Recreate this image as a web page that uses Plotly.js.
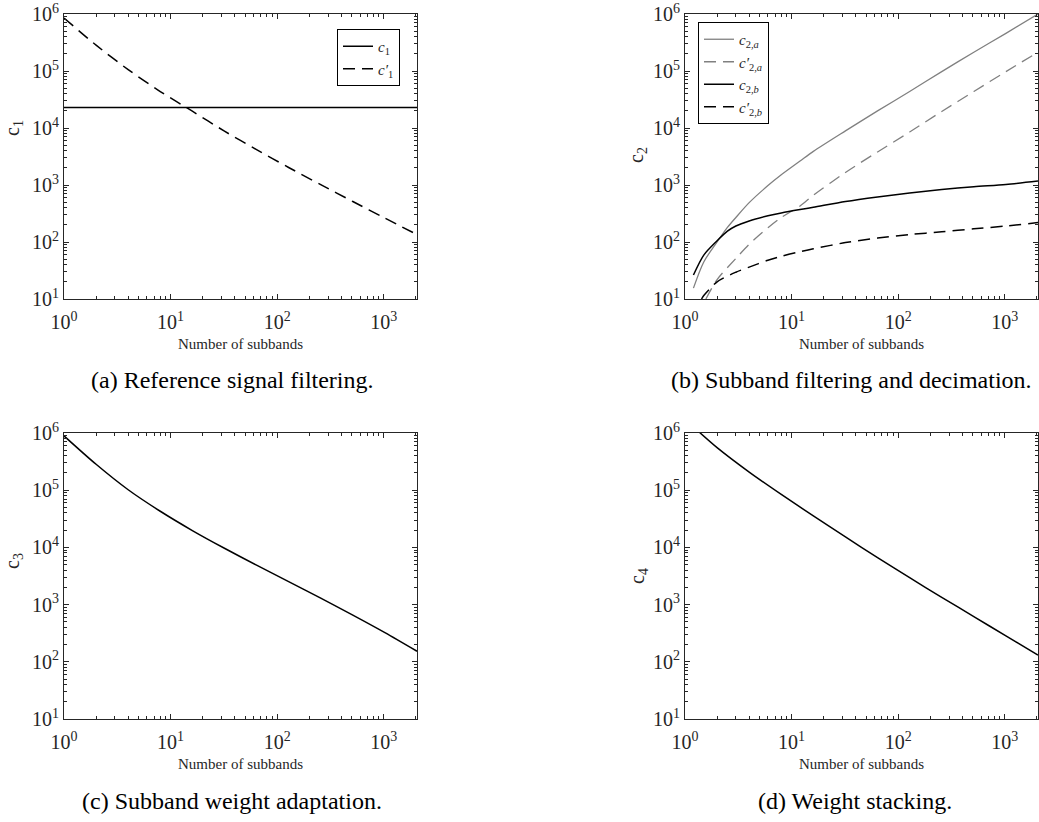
<!DOCTYPE html>
<html>
<head>
<meta charset="utf-8">
<script src="https://cdn.plot.ly/plotly-3.0.1.min.js"></script>
<style>html,body{margin:0;padding:0;background:#fff;}#chart{width:1039px;height:822px;}</style>
</head>
<body>
<div id="chart"></div>
<script>
// ---------- data ----------
const subbandsA = [1, 2, 4, 8, 16, 32, 64, 128, 256, 512, 1024, 2048];
const c1K = [1, 2048];
const c1 = [22800, 22800];
const c1p = [851000, 284000, 105700, 43650, 19700, 8810, 4170, 2030, 1014, 513, 262, 135];

const subbandsB = [1.2, 1.5, 2, 2.5, 3, 4, 6, 8, 12, 16, 32, 64, 128, 256, 512, 1024, 2048];
const c2a = [15.5, 44.7, 100, 180, 269, 490, 977, 1510, 2630, 3890, 8910, 19950, 43650, 97700, 213800, 457000, 1000000];
const c2b = [26.3, 58.9, 105, 155, 191, 234, 288, 324, 372, 407, 513, 617, 724, 832, 933, 1023, 1175];
const subbandsC2ap = [1.57, 2, 3, 4, 6, 8, 12, 16, 32, 64, 128, 256, 512, 1024, 2048];
const c2ap = [10, 21.9, 51.3, 91.2, 178, 269, 427, 661, 1660, 3800, 8510, 19500, 43650, 97700, 213800];
const subbandsC2bp = [1.43, 1.5, 2, 3, 4, 6, 8, 12, 16, 32, 64, 128, 256, 512, 1024, 2048];
const c2bp = [10, 11.5, 20, 29.5, 36.3, 47.9, 56.2, 67.6, 75.9, 97.7, 117, 135, 151, 170, 191, 219];

const c3 = [891000, 283800, 101800, 42850, 19720, 9660, 4900, 2520, 1294, 656, 324, 153];
const c4 = [1738000, 554600, 207500, 84300, 35500, 15240, 6640, 2950, 1340, 617, 284, 131];

const xTickVals = [1, 10, 100, 1000];
const xTickText = ['10<sup>0</sup>', '10<sup>1</sup>', '10<sup>2</sup>', '10<sup>3</sup>'];
const yTickVals = [10, 100, 1000, 10000, 100000, 1000000];
const yTickText = ['10<sup>1</sup>', '10<sup>2</sup>', '10<sup>3</sup>', '10<sup>4</sup>', '10<sup>5</sup>', '10<sup>6</sup>'];
const xTitle = 'Number of subbands';
const yTitles = ['c<sub>1</sub>', 'c<sub>2</sub>', 'c<sub>3</sub>', 'c<sub>4</sub>'];
const captions = ['(a) Reference signal filtering.', '(b) Subband filtering and decimation.',
                  '(c) Subband weight adaptation.', '(d) Weight stacking.'];

// ---------- style ----------
const FONT = '"Liberation Serif", "Times New Roman", serif';
const AX = '#262626';
const GRAY = '#808080';
const DASH = '12px,7px';

function minorVals(lo, hi) {
  const v = [];
  for (let d = lo; d < hi; d *= 10) for (let m = 2; m <= 9; m++) v.push(m * d);
  return v;
}
const xMinor = minorVals(1, 10000).filter(v => v <= 2048);
const yMinor = minorVals(10, 1000000);

function xAxis(domain, anchor) {
  return {
    type: 'log', domain: domain, anchor: anchor, range: [0, Math.log10(2048)],
    tickmode: 'array', tickvals: xTickVals, ticktext: xTickText,
    ticks: 'inside', ticklen: 5, tickwidth: 1, tickcolor: AX, ticklabelstandoff: 5,
    minor: {tickmode: 'array', tickvals: xMinor, ticks: 'inside', ticklen: 3, tickcolor: AX, showgrid: false},
    showline: true, linecolor: AX, linewidth: 1, mirror: 'allticks', showgrid: false, zeroline: false,
    tickfont: {family: FONT, size: 20, color: AX},
    title: {text: xTitle, font: {family: FONT, size: 15, color: AX}, standoff: 6},
    automargin: false
  };
}
function yAxis(domain, anchor) {
  return {
    type: 'log', domain: domain, anchor: anchor, range: [1, 6],
    tickmode: 'array', tickvals: yTickVals, ticktext: yTickText,
    ticks: 'inside', ticklen: 5, tickwidth: 1, tickcolor: AX,
    minor: {tickmode: 'array', tickvals: yMinor, ticks: 'inside', ticklen: 3, tickcolor: AX, showgrid: false},
    showline: true, linecolor: AX, linewidth: 1, mirror: 'allticks', showgrid: false, zeroline: false,
    tickfont: {family: FONT, size: 20, color: AX},
    automargin: false
  };
}

const W = 1039, H = 822;
const dxL = [64 / W, 417 / W], dxR = [685 / W, 1038 / W];
const dyT = [1 - 299 / H, 1 - 14 / H], dyB = [1 - 719 / H, 1 - 433 / H];

const SM = {shape: 'spline', smoothing: 0.8};
const traces = [
  {x: c1K, y: c1, xaxis: 'x', yaxis: 'y', mode: 'lines', name: '<i>c</i><sub>1</sub>',
   line: {color: '#000', width: 1.5}, legend: 'legend'},
  {x: subbandsA, y: c1p, xaxis: 'x', yaxis: 'y', mode: 'lines', name: '<i>c′</i><sub>1</sub>',
   line: Object.assign({color: '#000', width: 1.5, dash: DASH}, SM), legend: 'legend'},

  {x: subbandsB, y: c2a, xaxis: 'x2', yaxis: 'y2', mode: 'lines', name: '<i>c</i><sub>2,<i>a</i></sub>',
   line: Object.assign({color: GRAY, width: 1.3}, SM), legend: 'legend2'},
  {x: subbandsC2ap, y: c2ap, xaxis: 'x2', yaxis: 'y2', mode: 'lines', name: '<i>c′</i><sub>2,<i>a</i></sub>',
   line: Object.assign({color: GRAY, width: 1.3, dash: DASH}, SM), legend: 'legend2'},
  {x: subbandsB, y: c2b, xaxis: 'x2', yaxis: 'y2', mode: 'lines', name: '<i>c</i><sub>2,<i>b</i></sub>',
   line: Object.assign({color: '#000', width: 1.5}, SM), legend: 'legend2'},
  {x: subbandsC2bp, y: c2bp, xaxis: 'x2', yaxis: 'y2', mode: 'lines', name: '<i>c′</i><sub>2,<i>b</i></sub>',
   line: Object.assign({color: '#000', width: 1.5, dash: DASH}, SM), legend: 'legend2'},

  {x: subbandsA, y: c3, xaxis: 'x3', yaxis: 'y3', mode: 'lines', name: 'c3', showlegend: false,
   line: Object.assign({color: '#000', width: 1.5}, SM)},
  {x: subbandsA, y: c4, xaxis: 'x4', yaxis: 'y4', mode: 'lines', name: 'c4', showlegend: false,
   line: Object.assign({color: '#000', width: 1.5}, SM)}
];

const legendStyle = {
  bgcolor: '#fff', bordercolor: '#000', borderwidth: 1,
  font: {family: FONT, size: 15, color: AX}, tracegroupgap: 0, itemwidth: 30
};

const capY = [1 - 380 / H, 1 - 380 / H, 1 - 801 / H, 1 - 801 / H];
const capX = [232 / W, 851 / W, 232 / W, 855 / W];
const yTitX = [13 / W, 638 / W, 13 / W, 638 / W];
const yTitY = [1 - 128 / H, 1 - 155 / H, 1 - 561 / H, 1 - 576 / H];

const annotations = captions.map((t, i) => ({
  text: t, xref: 'paper', yref: 'paper', x: capX[i], y: capY[i],
  xanchor: 'center', yanchor: 'middle', showarrow: false,
  font: {family: FONT, size: 24, color: '#000'}
})).concat(yTitles.map((t, i) => ({
  text: t, xref: 'paper', yref: 'paper', x: yTitX[i], y: yTitY[i], textangle: -90,
  xanchor: 'center', yanchor: 'middle', showarrow: false,
  font: {family: FONT, size: 20, color: AX}
})));

const layout = {
  width: W, height: H,
  margin: {l: 0, r: 0, t: 0, b: 0},
  paper_bgcolor: '#fff', plot_bgcolor: '#fff',
  showlegend: true,
  xaxis: xAxis(dxL, 'y'), yaxis: yAxis(dyT, 'x'),
  xaxis2: xAxis(dxR, 'y2'), yaxis2: yAxis(dyT, 'x2'),
  xaxis3: xAxis(dxL, 'y3'), yaxis3: yAxis(dyB, 'x3'),
  xaxis4: xAxis(dxR, 'y4'), yaxis4: yAxis(dyB, 'x4'),
  legend: Object.assign({x: 400 / W, xanchor: 'right', y: 1 - 29 / H, yanchor: 'top'}, legendStyle),
  legend2: Object.assign({x: 698 / W, xanchor: 'left', y: 1 - 22 / H, yanchor: 'top'}, legendStyle),
  annotations: annotations
};

Plotly.newPlot('chart', traces, layout, {displayModeBar: false, staticPlot: true});
</script>
</body>
</html>
